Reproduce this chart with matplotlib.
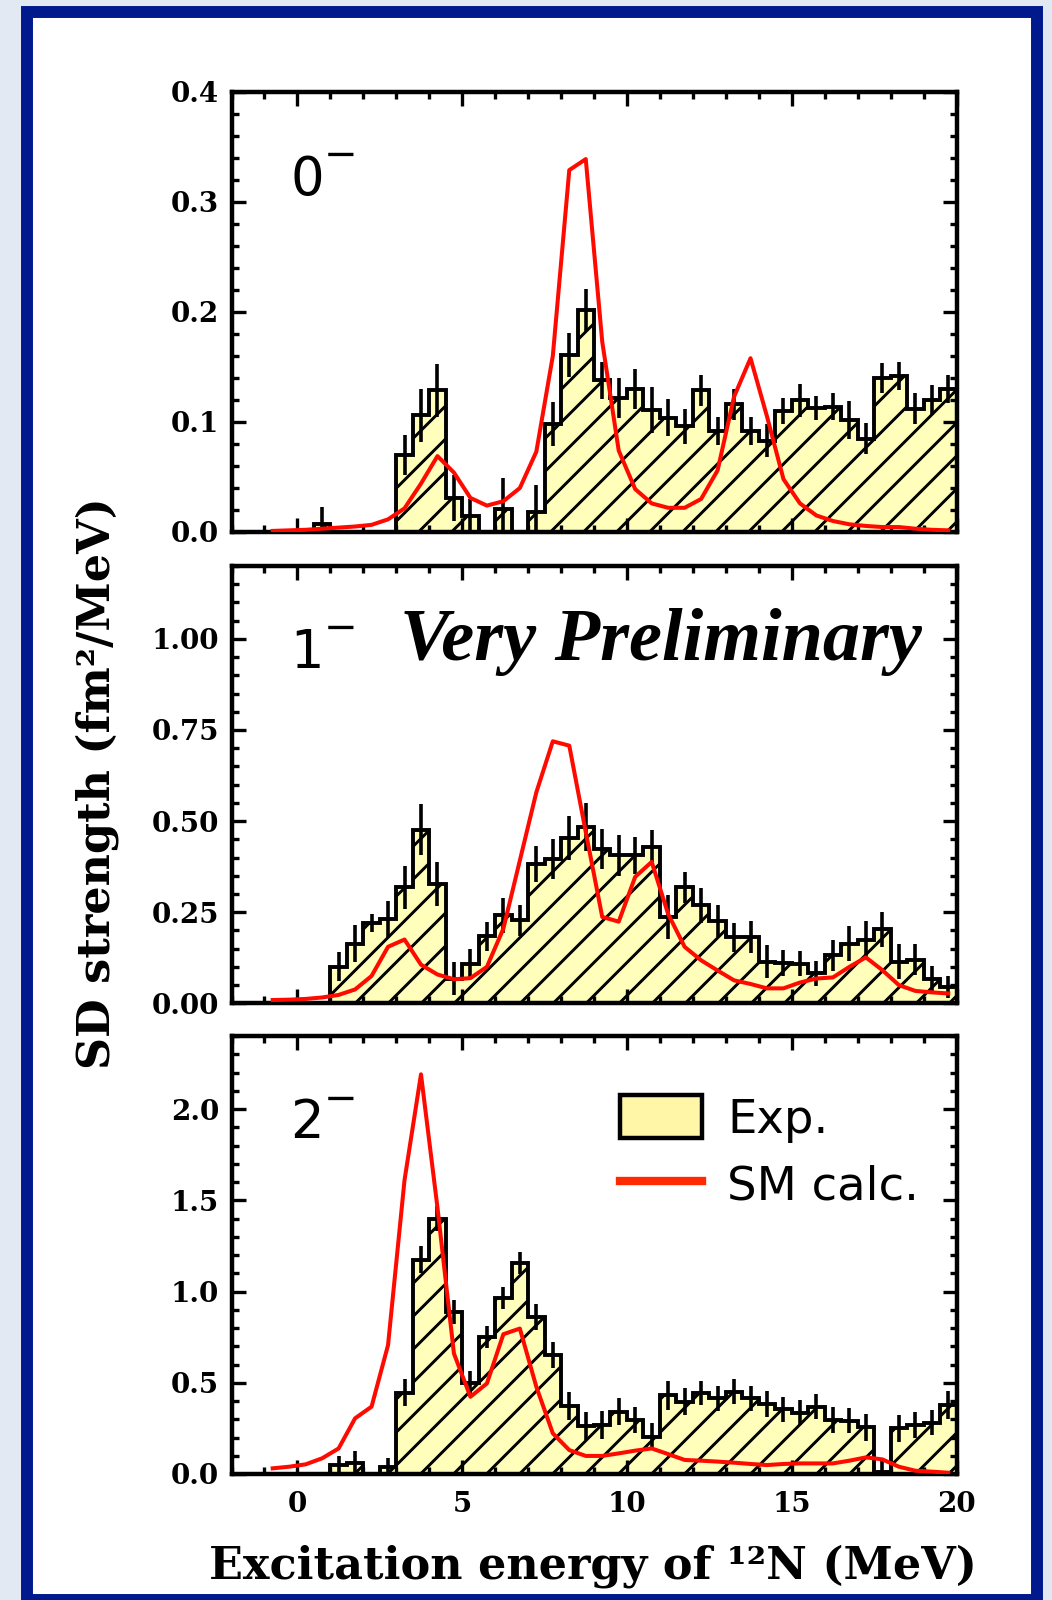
import numpy as np
import matplotlib
matplotlib.use('Agg')
import matplotlib.pyplot as plt
from matplotlib.patches import Rectangle, Patch
from matplotlib.lines import Line2D
from matplotlib.collections import LineCollection
from matplotlib.ticker import MultipleLocator, FormatStrFormatter

# 0.5 MeV bins of the measured strength
e_lo = np.arange(0.0, 20.0, 0.5)
edges = np.append(e_lo, 20.0)
centers = e_lo + 0.25
# shell-model curve points
e_sm = np.arange(-0.75, 20.0, 0.5)

# 0- strength
exp_0 = [0, 0.007, 0, 0, 0, 0, 0.070, 0.106, 0.129, 0.031,
         0.015, 0, 0.021, 0, 0.018, 0.098, 0.161, 0.202, 0.138, 0.122,
         0.130, 0.111, 0.104, 0.096, 0.129, 0.092, 0.116, 0.092, 0.083, 0.110,
         0.120, 0.113, 0.114, 0.102, 0.085, 0.140, 0.142, 0.112, 0.120, 0.130]
err_0 = [0, 0.016, 0, 0, 0, 0, 0.018, 0.024, 0.024, 0.021,
         0.015, 0, 0.028, 0, 0.025, 0.020, 0.020, 0.019, 0.017, 0.018,
         0.018, 0.021, 0.017, 0.016, 0.014, 0.013, 0.014, 0.013, 0.015, 0.012,
         0.015, 0.011, 0.012, 0.017, 0.014, 0.014, 0.013, 0.014, 0.014, 0.013]
sm_0 = [0.001, 0.0015, 0.002, 0.003, 0.004, 0.005, 0.0065, 0.0115, 0.0215, 0.044,
        0.069, 0.054, 0.031, 0.024, 0.028, 0.040, 0.073, 0.160, 0.329, 0.339,
        0.173, 0.074, 0.039, 0.026, 0.022, 0.022, 0.030, 0.056, 0.123, 0.158,
        0.105, 0.048, 0.026, 0.015, 0.010, 0.007, 0.0055, 0.0045, 0.0045, 0.003,
        0.002, 0.0015]

# 1- strength
exp_1 = [0, 0, 0.100, 0.164, 0.221, 0.230, 0.318, 0.476, 0.328, 0.068,
         0.109, 0.184, 0.242, 0.228, 0.383, 0.397, 0.453, 0.484, 0.424, 0.406,
         0.406, 0.429, 0.237, 0.318, 0.269, 0.226, 0.181, 0.182, 0.114, 0.111,
         0.109, 0.082, 0.132, 0.164, 0.175, 0.203, 0.114, 0.120, 0.066, 0.044]
err_1 = [0, 0, 0.040, 0.050, 0.025, 0.052, 0.060, 0.070, 0.060, 0.045,
         0.040, 0.040, 0.048, 0.042, 0.050, 0.055, 0.060, 0.065, 0.055, 0.057,
         0.050, 0.046, 0.060, 0.043, 0.048, 0.045, 0.040, 0.043, 0.045, 0.035,
         0.035, 0.035, 0.042, 0.047, 0.050, 0.048, 0.048, 0.043, 0.037, 0.030]
sm_1 = [0.009, 0.010, 0.012, 0.016, 0.023, 0.038, 0.075, 0.155, 0.175, 0.106,
        0.079, 0.066, 0.069, 0.100, 0.205, 0.392, 0.579, 0.719, 0.707, 0.470,
        0.237, 0.224, 0.347, 0.388, 0.245, 0.155, 0.118, 0.090, 0.063, 0.053,
        0.041, 0.041, 0.057, 0.068, 0.071, 0.100, 0.126, 0.091, 0.050, 0.034,
        0.030, 0.027]

# 2- strength
exp_2 = [0, 0, 0.049, 0.062, 0, 0.040, 0.445, 1.175, 1.400, 0.889,
         0.496, 0.752, 0.962, 1.157, 0.861, 0.651, 0.372, 0.263, 0.268, 0.341,
         0.296, 0.204, 0.432, 0.396, 0.442, 0.414, 0.451, 0.414, 0.383, 0.354,
         0.336, 0.369, 0.296, 0.292, 0.255, 0.010, 0.250, 0.268, 0.281, 0.378]
err_2 = [0, 0, 0.050, 0.065, 0, 0.050, 0.075, 0.075, 0.070, 0.065,
         0.070, 0.060, 0.060, 0.060, 0.070, 0.070, 0.075, 0.075, 0.075, 0.075,
         0.070, 0.075, 0.080, 0.075, 0.065, 0.070, 0.070, 0.070, 0.070, 0.070,
         0.070, 0.070, 0.070, 0.070, 0.075, 0.070, 0.075, 0.070, 0.070, 0.075]
sm_2 = [0.031, 0.040, 0.053, 0.086, 0.140, 0.305, 0.369, 0.706, 1.610, 2.190,
        1.460, 0.660, 0.423, 0.496, 0.766, 0.797, 0.478, 0.223, 0.131, 0.099,
        0.099, 0.113, 0.128, 0.140, 0.109, 0.077, 0.073, 0.068, 0.062, 0.055,
        0.049, 0.055, 0.058, 0.058, 0.058, 0.073, 0.091, 0.080, 0.040, 0.018,
        0.013, 0.007]

W, H = 1052, 1600
fig = plt.figure(figsize=(W / 100, H / 100), dpi=100)
fig.patch.set_facecolor('#e2e9f2')

# white sheet with blue frame
fig.add_artist(Rectangle((26.5 / W, 0), 1010 / W, 1 - 11.5 / H, transform=fig.transFigure,
                         facecolor='white', edgecolor='#00198c', lw=8.6, zorder=-5))

fill_col = '#ffffbb'
serif = 'DejaVu Serif'


def panel(rect, vals, errs, sm, ymax, major, minor, fmt):
    ax = fig.add_axes(rect)
    vals = np.array(vals)
    errs = np.array(errs)
    filled = ax.stairs(vals, edges, baseline=0, fill=True, facecolor=fill_col,
                       edgecolor='none', zorder=1)
    # widely spaced diagonal hatch, clipped to the histogram
    pw = rect[2] * W
    ph = rect[3] * H
    segs = [[(c / pw, 0), ((c + ph) / pw, 1)] for c in np.arange(-ph, pw, 33.0)]
    lc = LineCollection(segs, colors='k', linewidths=2.1, transform=ax.transAxes, zorder=1.5)
    ax.add_collection(lc)
    lc.set_clip_path(filled)
    ax.stairs(vals, edges, baseline=0, fill=False, edgecolor='k', lw=2.8, zorder=2)
    m = vals > 0
    ax.errorbar(centers[m], vals[m], yerr=errs[m], fmt='none', ecolor='k',
                elinewidth=2.6, capsize=0, zorder=2.5)
    ax.plot(e_sm, sm, color='#ff0a00', lw=2.9, zorder=3)

    ax.set_xlim(-2, 20)
    ax.set_ylim(0, ymax)
    ax.xaxis.set_major_locator(MultipleLocator(5))
    ax.xaxis.set_minor_locator(MultipleLocator(1))
    ax.yaxis.set_major_locator(MultipleLocator(major))
    ax.yaxis.set_minor_locator(MultipleLocator(minor))
    ax.yaxis.set_major_formatter(FormatStrFormatter(fmt))
    ax.tick_params(which='both', direction='in', top=True, right=True, width=2.4)
    ax.tick_params(which='major', length=10, pad=9)
    ax.tick_params(which='minor', length=5)
    for lab in ax.get_yticklabels():
        lab.set_fontfamily(serif)
        lab.set_fontweight('bold')
        lab.set_fontsize(20)
    for s in ax.spines.values():
        s.set_linewidth(3.2)
    return ax


left, width = 231.5 / W, 725 / W
ax0 = panel([left, 1 - 532 / H, width, 440 / H], exp_0, err_0, sm_0, 0.4, 0.1, 0.02, '%.1f')
ax1 = panel([left, 1 - 1003.3 / H, width, 437.3 / H], exp_1, err_1, sm_1, 1.2, 0.25, 0.05, '%.2f')
ax2 = panel([left, 1 - 1474 / H, width, 438 / H], exp_2, err_2, sm_2, 2.4, 0.5, 0.1, '%.1f')

ax0.tick_params(axis='x', labelbottom=False)
ax1.tick_params(axis='x', labelbottom=False)
ax2.xaxis.set_major_formatter(FormatStrFormatter('%d'))
ax2.tick_params(axis='x', pad=12)
for lab in ax2.get_xticklabels():
    lab.set_fontfamily(serif)
    lab.set_fontweight('bold')
    lab.set_fontsize(20)

for ax, jp in [(ax0, '0'), (ax1, '1'), (ax2, '2')]:
    ax.text(0.081, 0.767, jp, transform=ax.transAxes, fontsize=38,
            family='DejaVu Sans', va='baseline', ha='left')
    ax.text(0.127, 0.83, '\u2212', transform=ax.transAxes, fontsize=29,
            family='DejaVu Sans', va='baseline', ha='left')

ax1.text(0.232, 0.785, 'Very Preliminary', transform=ax1.transAxes, fontsize=53.5,
         family='Liberation Serif', style='italic', weight='bold', va='baseline', ha='left')

handles = [Patch(facecolor='#fff6a8', edgecolor='k', linewidth=3.2),
           Line2D([], [], color='#ff2a00', lw=6)]
ax2.legend(handles, ['Exp.', 'SM calc.'], loc='upper left', bbox_to_anchor=(0.536, 0.865),
           frameon=False, prop={'family': 'DejaVu Sans', 'size': 33.5},
           handlelength=1.75, handleheight=1.05, handletextpad=0.55,
           labelspacing=0.42, borderpad=0, borderaxespad=0)

fig.text(593 / W, 1 - 1578 / H, 'Excitation energy of \u00b9\u00b2N (MeV)', ha='center',
         va='baseline', fontsize=32, family=serif, weight='bold')
fig.text(97 / W, 1 - 783 / H, 'SD strength (fm\u00b2/MeV)', rotation=90, ha='center',
         va='center', fontsize=32, family=serif, weight='bold')

fig.savefig('out.png', dpi=100, facecolor=fig.get_facecolor())
